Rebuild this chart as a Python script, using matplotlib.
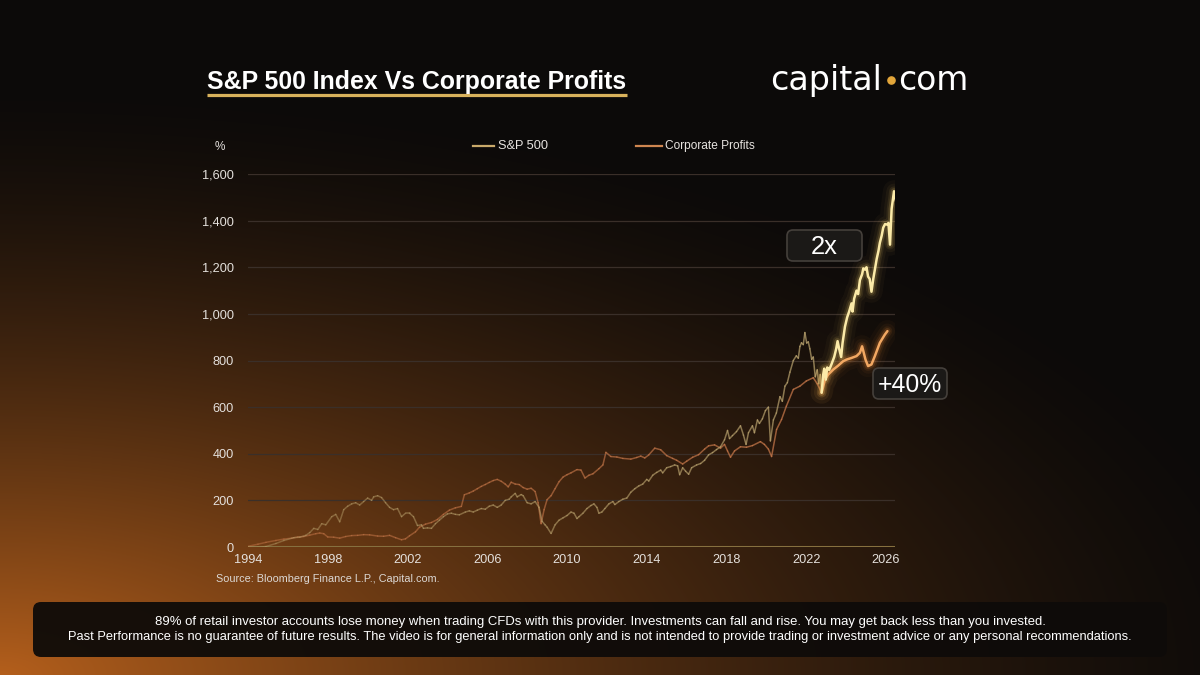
import numpy as np
import matplotlib
matplotlib.use("Agg")
import matplotlib.pyplot as plt
from matplotlib.collections import LineCollection
from matplotlib.patches import FancyBboxPatch, Circle
from matplotlib.colors import to_rgb

plt.rcParams['font.family'] = ['Liberation Sans', 'DejaVu Sans']

# ---------------- DATA ----------------
sp_years = [1994.0, 1994.5, 1994.9, 1995.4, 1995.8, 1996.3, 1996.6, 1996.9, 1997.1, 1997.3, 1997.5,
            1997.7, 1997.9, 1998.2, 1998.4, 1998.6, 1998.8, 1999.0, 1999.2, 1999.4, 1999.6, 1999.8,
            2000.0, 2000.2, 2000.3, 2000.5, 2000.7, 2000.9, 2001.1, 2001.3, 2001.5, 2001.7, 2001.9,
            2002.1, 2002.3, 2002.5, 2002.7, 2002.8, 2003.0, 2003.2, 2003.4, 2003.6, 2003.8, 2004.0,
            2004.2, 2004.4, 2004.6, 2004.9, 2005.1, 2005.3, 2005.5, 2005.7, 2005.9, 2006.1, 2006.3,
            2006.5, 2006.7, 2006.9, 2007.1, 2007.2, 2007.4, 2007.5, 2007.7, 2007.8, 2008.0, 2008.2,
            2008.4, 2008.6, 2008.75, 2008.9, 2009.0, 2009.2, 2009.4, 2009.6, 2009.8, 2010.0, 2010.2,
            2010.35, 2010.5, 2010.6, 2010.8, 2011.0, 2011.2, 2011.35, 2011.5, 2011.6, 2011.75, 2011.9,
            2012.1, 2012.3, 2012.4, 2012.6, 2012.8, 2013.0, 2013.2, 2013.4, 2013.6, 2013.8, 2014.0,
            2014.1, 2014.3, 2014.5, 2014.7, 2014.8, 2015.0, 2015.2, 2015.4, 2015.55, 2015.65, 2015.8,
            2015.95, 2016.1, 2016.25, 2016.5, 2016.7, 2016.9, 2017.1, 2017.3, 2017.5, 2017.7, 2017.9,
            2018.05, 2018.15, 2018.3, 2018.5, 2018.7, 2018.85, 2018.98, 2019.1, 2019.3, 2019.4,
            2019.55, 2019.65, 2019.8, 2019.95, 2020.1, 2020.2, 2020.35, 2020.5, 2020.68, 2020.8,
            2020.93, 2021.05, 2021.18, 2021.35, 2021.5, 2021.6, 2021.68, 2021.76, 2021.85, 2021.93,
            2022.02, 2022.1, 2022.18, 2022.27, 2022.35, 2022.45, 2022.55, 2022.62, 2022.7, 2022.77,
            2022.85, 2022.9, 2022.98, 2023.05, 2023.15, 2023.27, 2023.4, 2023.5, 2023.57, 2023.65,
            2023.75, 2023.82, 2023.94, 2024.05, 2024.15, 2024.27, 2024.32, 2024.4, 2024.52, 2024.6,
            2024.69, 2024.8, 2024.86, 2024.95, 2025.02, 2025.1, 2025.18, 2025.27, 2025.36, 2025.45,
            2025.53, 2025.62, 2025.69, 2025.78, 2025.86, 2025.95, 2026.06, 2026.12, 2026.2, 2026.28,
            2026.4, 2026.5]
sp_values = [0, -1, 2, 15, 28, 40, 42, 50, 62, 80, 75,
             100, 95, 130, 140, 108, 160, 175, 185, 190, 180, 195,
             210, 200, 215, 220, 212, 190, 170, 160, 165, 130, 145,
             145, 130, 92, 95, 80, 82, 80, 100, 115, 130, 142,
             145, 140, 138, 150, 155, 150, 158, 165, 162, 175, 180,
             170, 180, 200, 205, 215, 230, 215, 225, 220, 190, 185,
             195, 170, 110, 95, 85, 58, 95, 115, 125, 135, 150,
             145, 122, 130, 145, 165, 178, 185, 170, 145, 150, 165,
             185, 195, 182, 195, 205, 210, 235, 250, 262, 270, 290,
             283, 308, 320, 330, 318, 340, 345, 352, 348, 310, 340,
             325, 312, 340, 352, 358, 372, 395, 405, 418, 430, 460,
             500, 465, 478, 495, 520, 480, 440, 490, 520, 490,
             545, 530, 550, 585, 600, 455, 545, 575, 645, 625,
             690, 705, 750, 800, 820, 810, 860, 876, 868, 920,
             875, 880, 850, 805, 815, 730, 760, 700, 740, 662,
             740, 765, 718, 770, 760, 785, 815, 850, 883, 850,
             815, 875, 945, 985, 1010, 1045, 1010, 1065, 1100, 1085,
             1145, 1170, 1195, 1190, 1200, 1160, 1150, 1095, 1150, 1195,
             1235, 1270, 1305, 1335, 1370, 1385, 1383, 1390, 1297, 1450,
             1526, 1483]

cp_years = [1994.0, 1994.5, 1994.9, 1995.4, 1995.8, 1996.2, 1996.5, 1996.8, 1997.1, 1997.4, 1997.6,
            1997.8, 1998.0, 1998.3, 1998.6, 1998.9, 1999.2, 1999.5, 1999.8, 2000.1, 2000.5, 2000.8,
            2001.1, 2001.4, 2001.7, 2001.9, 2002.1, 2002.4, 2002.6, 2002.9, 2003.2, 2003.5, 2003.8,
            2004.1, 2004.4, 2004.7, 2004.85, 2005.1, 2005.3, 2005.5, 2005.7, 2005.9, 2006.1, 2006.3,
            2006.5, 2006.7, 2006.9, 2007.05, 2007.2, 2007.4, 2007.6, 2007.8, 2008.0, 2008.2, 2008.4,
            2008.55, 2008.7, 2008.85, 2009.0, 2009.2, 2009.4, 2009.6, 2009.8, 2010.0, 2010.2, 2010.5,
            2010.7, 2010.9, 2011.1, 2011.3, 2011.6, 2011.8, 2011.95, 2012.2, 2012.5, 2012.8, 2013.2,
            2013.5, 2013.7, 2013.9, 2014.1, 2014.4, 2014.7, 2015.0, 2015.3, 2015.5, 2015.8, 2016.0,
            2016.3, 2016.6, 2016.9, 2017.1, 2017.4, 2017.7, 2017.9, 2018.05, 2018.2, 2018.4, 2018.7,
            2019.0, 2019.3, 2019.7, 2019.9, 2020.1, 2020.26, 2020.51, 2020.76, 2021.0, 2021.35,
            2021.68, 2022.0, 2022.35, 2022.55, 2022.77,
            2022.94, 2023.1, 2023.35, 2023.6, 2023.85, 2024.02, 2024.27, 2024.52, 2024.69, 2024.8,
            2024.97, 2025.1, 2025.27, 2025.44, 2025.69, 2025.94, 2026.07]
cp_values = [3, 12, 20, 28, 34, 38, 43, 45, 51, 57, 60,
             57, 43, 42, 38, 45, 49, 50, 53, 52, 47, 46,
             50, 40, 31, 35, 48, 65, 85, 98, 105, 118, 140,
             158, 168, 174, 224, 232, 240, 250, 260, 268, 277, 285,
             290, 282, 270, 258, 278, 270, 268, 255, 248, 252, 238,
             190, 100, 160, 203, 220, 250, 280, 300, 310, 318, 332,
             330, 296, 308, 314, 336, 352, 406, 388, 386, 380, 377,
             384, 390, 382, 395, 424, 417, 392, 380, 372, 356, 368,
             385, 396, 420, 434, 438, 424, 440, 412, 385, 412, 430,
             428, 435, 452, 440, 420, 388, 504, 547, 604, 676,
             690, 712, 726, 700, 662,
             719, 740, 761, 778, 797, 804, 811, 819, 833, 861,
             804, 776, 783, 819, 876, 911, 926]

highlight_start = 2022.77
x_ticks = [1994, 1998, 2002, 2006, 2010, 2014, 2018, 2022, 2026]
y_ticks = [0, 200, 400, 600, 800, 1000, 1200, 1400, 1600]
series_names = ["S&P 500", "Corporate Profits"]
title = "S&P 500 Index Vs Corporate Profits"
source = "Source: Bloomberg Finance L.P., Capital.com."
disclaimer = ["89% of retail investor accounts lose money when trading CFDs with this provider. Investments can fall and rise. You may get back less than you invested.",
              "Past Performance is no guarantee of future results. The video is for general information only and is not intended to provide trading or investment advice or any personal recommendations."]
annot_sp = "2x"
annot_cp = "+40%"

# ---------------- FIGURE ----------------
W, H = 1200, 675
fig = plt.figure(figsize=(12, 6.75), dpi=100)
renderer = fig.canvas.get_renderer()

# background gradient
bg = fig.add_axes([0, 0, 1, 1], zorder=-10)
yy, xx = np.mgrid[0:H, 0:W]
u = xx / W
v = (H - yy) / H
d = np.sqrt((u / 1.1) ** 2 + (v / 0.88) ** 2)
w = np.clip(1 - d, 0, 1) ** 1.5
base = np.array([12, 10, 9]) / 255
glow = np.array([180, 95, 28]) / 255
img = base[None, None, :] + w[..., None] * (glow - base)[None, None, :]
bg.imshow(img, aspect='auto', extent=[0, 1, 0, 1], origin='upper')
bg.axis('off')

# main chart axes
L, R, B, T = 248, 895, 547, 174
ax = fig.add_axes([L / W, 1 - B / H, (R - L) / W, (B - T) / H])
ax.set_facecolor('none')
ax.set_xlim(1994, 2026.45)
ax.set_ylim(0, 1600)
for s in ax.spines.values():
    s.set_visible(False)
ax.set_xticks(x_ticks)
ax.set_yticks(y_ticks)
ax.set_yticklabels([f"{t:,}" for t in y_ticks])
ax.tick_params(length=0, colors='#e4e0dc', labelsize=9.2)
ax.tick_params(axis='y', pad=10)
ax.tick_params(axis='x', pad=5)
for t in y_ticks[1:]:
    ax.axhline(t, color='#3a2f29', lw=0.9, zorder=1)
ax.axhline(0, color='#86703f', lw=2.2, zorder=2)


def dim_segments(xs, ys, rgb, a0, a1, lw):
    xs = np.asarray(xs, float)
    ys = np.asarray(ys, float)
    mask = xs <= highlight_start
    px, py = xs[mask], ys[mask]
    pts = np.column_stack([px, py]).reshape(-1, 1, 2)
    segs = np.concatenate([pts[:-1], pts[1:]], axis=1)
    mid = (px[:-1] + px[1:]) / 2
    frac = (mid - 1994) / (highlight_start - 1994)
    alphas = a0 + (a1 - a0) * frac
    cols = [(*rgb, a) for a in alphas]
    lc = LineCollection(segs, colors=cols, linewidths=lw, zorder=3, capstyle='round', joinstyle='round')
    ax.add_collection(lc)


def bright(xs, ys, core, glowc, lw):
    xs = np.asarray(xs, float)
    ys = np.asarray(ys, float)
    mask = xs >= highlight_start
    px, py = xs[mask], ys[mask]
    for gw, ga in [(16, 0.035), (11, 0.05), (7, 0.09), (4.5, 0.16)]:
        ax.plot(px, py, color=glowc, lw=gw, alpha=ga, solid_capstyle='round', solid_joinstyle='round', zorder=4)
    ax.plot(px, py, color=core, lw=lw, solid_capstyle='round', solid_joinstyle='round', zorder=5)


dim_segments(cp_years, cp_values, to_rgb('#c8784a'), 0.45, 0.75, 1.1)
dim_segments(sp_years, sp_values, to_rgb('#bfa872'), 0.38, 0.7, 1.1)
bright(cp_years, cp_values, '#f2a862', '#f08a38', 1.8)
bright(sp_years, sp_values, '#fbeaa8', '#f3cf6a', 1.8)

# overlay for decorations (pixel coordinates)
ov = fig.add_axes([0, 0, 1, 1], zorder=10)
ov.set_xlim(0, W)
ov.set_ylim(H, 0)
ov.axis('off')
ov.patch.set_alpha(0)


def fit_text(x, y, s, target_w, size, **kw):
    t = ov.text(x, y, s, fontsize=size, **kw)
    bb = t.get_window_extent(renderer=renderer)
    t.set_fontsize(size * target_w / bb.width)
    return t


# title
fit_text(207, 88.5, title, 420, 16, color='white', fontweight='bold', va='baseline', ha='left')
ov.plot([207, 627], [94.5, 94.5], color='#d9b25c', lw=2.3, solid_capstyle='butt')

# logo
fit_text(770, 90, "capital", 112, 22, color='white', ha='left', va='baseline', family='DejaVu Sans')
ov.add_patch(Circle((891.5, 80.5), 3.6, color='#e3a63a'))
fit_text(898, 90, "com", 70, 22, color='white', ha='left', va='baseline', family='DejaVu Sans')

# legend
ov.plot([473, 494], [146, 146], color='#c9a96a', lw=1.6)
fit_text(498, 146, series_names[0], 50, 8, color='#e8e4e0', va='center', ha='left')
ov.plot([636, 662], [146, 146], color='#cf8650', lw=1.6)
fit_text(665, 146, series_names[1], 91, 8, color='#e8e4e0', va='center', ha='left')

# % label
ov.text(220, 147, "%", color='#e4e0dc', fontsize=8.5, ha='center', va='center')

# source
fit_text(216, 579, source, 224, 8, color='#dcd8d4', ha='left', va='center')

# annotation boxes
for (x0, y0, x1, y1, txt, tw) in [(787, 230, 862, 261, annot_sp, 27), (873, 368, 947, 399, annot_cp, 64)]:
    box = FancyBboxPatch((x0, y0), x1 - x0, y1 - y0, boxstyle="round,pad=0,rounding_size=6",
                         facecolor='#1b1917', edgecolor='#45403b', lw=1.2)
    ov.add_patch(box)
    fit_text((x0 + x1) / 2, (y0 + y1) / 2 + 1, txt, tw, 16, color='white', ha='center', va='center')

# disclaimer box
dbox = FancyBboxPatch((33, 602), 1167 - 33, 657 - 602, boxstyle="round,pad=0,rounding_size=8",
                      facecolor='#0e0b09', edgecolor='none', alpha=0.95)
ov.add_patch(dbox)
fit_text(600, 622, disclaimer[0], 891, 9, color='white', ha='center', va='center')
fit_text(600, 637, disclaimer[1], 1069, 9, color='white', ha='center', va='center')

fig.savefig("out.png", dpi=100)
